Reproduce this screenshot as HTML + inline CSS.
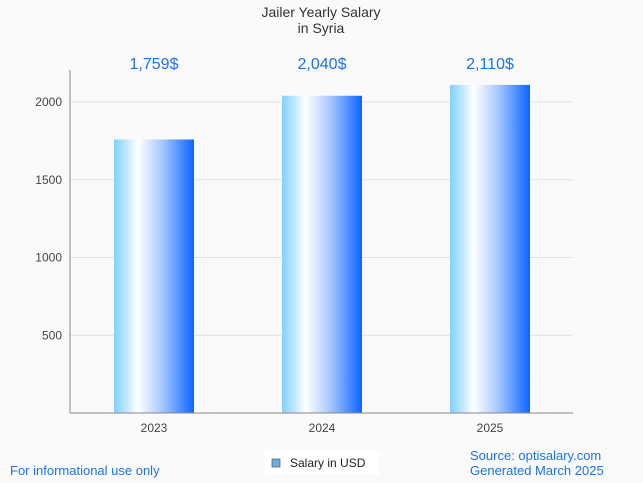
<!DOCTYPE html>
<html><head><meta charset="utf-8"><style>
body{margin:0;background:#fafafa;font-family:"Liberation Sans",sans-serif;}
svg{display:block}
</style></head><body>
<svg width="643" height="483">
<defs><linearGradient id="g" x1="0" x2="1" y1="0" y2="0">
<stop offset="0" stop-color="#7fd0ff"/><stop offset="0.3" stop-color="#ffffff"/><stop offset="0.6" stop-color="#a8c8ff"/><stop offset="1" stop-color="#0a64ff"/></linearGradient></defs>
<text x="321" y="17" text-anchor="middle" font-size="14" fill="#333">Jailer Yearly Salary</text>
<text x="321" y="33" text-anchor="middle" font-size="14" fill="#333">in Syria</text>
<g id="grid"></g><g id="bars"></g>
<line x1="70" y1="70" x2="70" y2="413" stroke="#888"/>
<line x1="70" y1="413" x2="573" y2="413" stroke="#888"/>
<text x="10" y="475" font-size="13" fill="#1a73e8">For informational use only</text>
<rect x="265" y="451" width="114" height="24" fill="#fff"/>
<rect x="272" y="459" width="8" height="8" fill="#6aaee8" stroke="#555" stroke-width="0.7"/>
<text x="290" y="467" font-size="12" fill="#222">Salary in USD</text>
<text x="470" y="460" font-size="13" fill="#1a73e8">Source: optisalary.com</text>
<text x="470" y="475" font-size="13" fill="#1a73e8">Generated March 2025</text>
</svg>
<script>
const categories=["2023","2024","2025"];
const values=[1759,2040,2110];
const valueLabels=["1,759$","2,040$","2,110$"];
const yTicks=[500,1000,1500,2000];
const ns="http://www.w3.org/2000/svg";
const y=v=>413-v*0.1555;
const x=i=>154+i*168;
const grid=document.getElementById('grid'),bars=document.getElementById('bars');
function mk(tag,a,p){const e=document.createElementNS(ns,tag);for(const k in a)e.setAttribute(k,a[k]);p.appendChild(e);return e;}
yTicks.forEach(t=>{
 const l=mk('line',{x1:70,x2:573,y1:y(t),y2:y(t),stroke:'#e2e2e2'},grid);
 
 
 const tx=mk('text',{x:62,y:y(t)+4,'text-anchor':'end','font-size':12,fill:'#444'},grid);tx.textContent=t;
 
 
});
categories.forEach((c,i)=>{
 const r=mk('rect',{x:x(i)-40,y:y(values[i]),width:80,height:413-y(values[i]),fill:'url(#g)'},bars);
 
 
 const t=mk('text',{x:x(i),y:69,'text-anchor':'middle','font-size':16,fill:'#1a73e8'},bars);t.textContent=valueLabels[i];
 
 
 const xl=mk('text',{x:x(i),y:432,'text-anchor':'middle','font-size':12,fill:'#444'},bars);xl.textContent=c;
 
 
});
</script>
</body></html>
